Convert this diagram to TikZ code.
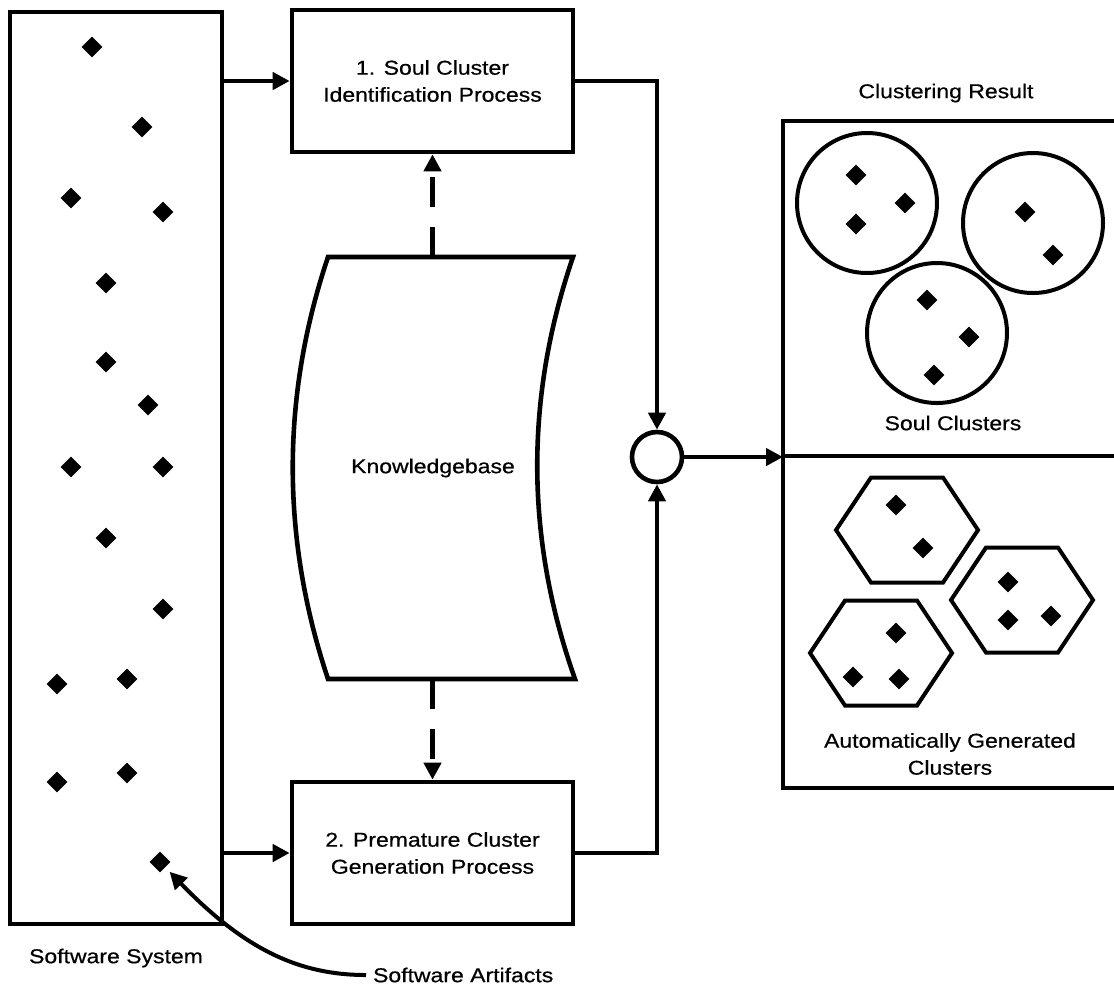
\documentclass[tikz,border=0pt]{standalone}
\usepackage{fontspec}
\setmainfont{Liberation Sans}[FakeStretch=1.15,FakeBold=0.6]
\usetikzlibrary{shapes.geometric,arrows.meta}

\begin{document}
\begin{tikzpicture}[x=0.5pt,y=-0.5pt,
  every node/.style={font=\fontsize{10}{13.5}\selectfont},
  frame/.style={line width=2.3pt},
  proc/.style={draw, line width=2.3pt, minimum width=140.5pt, minimum height=71pt,
               align=center, inner sep=0pt},
  arr/.style={line width=2.3pt, -{Triangle[length=8.5pt,width=8.5pt]}},
  darr/.style={arr, dash pattern=on 15pt off 10pt},
  art/.style={diamond, fill=black, minimum size=10.5pt, inner sep=0pt},
  ring/.style={circle, draw, line width=2pt, minimum size=70pt, inner sep=0pt},
  hexa/.pic={\draw[line width=2pt] (-71,0) -- (-36,-52.5) -- (36,-52.5) -- (71,0)
             -- (36,52.5) -- (-36,52.5) -- cycle;}]
\useasboundingbox (0,0) rectangle (1114,987);

% software system with its artifacts
\node[draw, line width=2.3pt, minimum width=106pt, minimum height=456pt, inner sep=0pt]
  (sys) at (116,468) {};
\foreach \p [count=\i] in {(92,47),(142,127),(71,198),(163,212),(106,283),(106,362),
    (148,405),(71,467),(163,467),(106,538),(163,609),(57,684),(127,679),(57,782),
    (127,773),(160,862)}
  \node[art] (sa\i) at \p {};
\node (syslbl) at (116,958) {Software System};
\node[anchor=west] (artlbl) at (366,975) {Software Artifacts};
\draw[arr, line width=2pt, shorten >=3pt] (artlbl.west)
  .. controls (300,975) and (245,950) .. (sa16.south east);

% the two processes
\node[proc] (p1) at (432.5,81) {1. Soul Cluster\\Identification Process};
\node[proc] (p2) at (432.5,853) {2. Premature Cluster\\Generation Process};

% knowledgebase
\draw[frame] (328,257) -- (573,257) .. controls (525,397) and (525,538) .. (575,679)
  -- (328,679) .. controls (281,538) and (281,397) .. cycle;
\node (kb) at (433,468) {Knowledgebase};
\coordinate (kbtop) at (432.5,257);
\coordinate (kbbot) at (432.5,679);

% junction and result panel
\node[circle, draw, line width=2.3pt, minimum size=25pt, inner sep=0pt] (junc) at (657,457) {};
\coordinate (resin) at (783,457);

\draw[arr] (sys.east |- p1.west) -- (p1.west);
\draw[arr] (sys.east |- p2.west) -- (p2.west);
\draw[darr] (kbtop) -- (p1.south);
\draw[darr] (kbbot) -- (p2.north);
\draw[arr] (p1.east) -| (junc.north);
\draw[arr] (p2.east) -| (junc.south);
\draw[arr] (junc.east) -- (resin);

\draw[frame] (1114,121) -| (783,788) -- (1114,788);
\draw[frame] (783,456) -- (1114,456);
\node (reslbl) at (946,93) {Clustering Result};

% soul clusters
\node[ring] (sc1) at (867,203) {};
\node[ring] (sc2) at (1033,223) {};
\node[ring] (sc3) at (937,333) {};
\foreach \p [count=\i] in {(856,175),(905,203),(856,224),(1025,212),(1053,255),
    (927,300),(969,337),(934,375)}
  \node[art] (sd\i) at \p {};
\node (soullbl) at (953,423) {Soul Clusters};

% automatically generated clusters
\pic (ag1) at (907,530) {hexa};
\pic (ag2) at (1022,600) {hexa};
\pic (ag3) at (881,653) {hexa};
\foreach \p [count=\i] in {(896,505),(923,548),(1008,582),(1008,620),(1051,616),
    (896,633),(853,677),(899,679)}
  \node[art] (gd\i) at \p {};
\node[align=center] (autolbl) at (950,754) {Automatically Generated\\Clusters};
\end{tikzpicture}
\end{document}
